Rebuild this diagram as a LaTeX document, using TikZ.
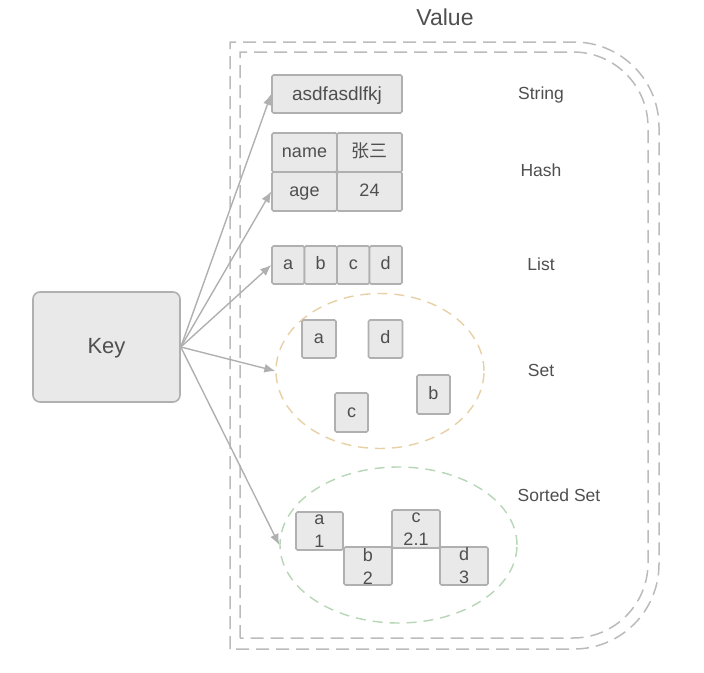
\documentclass[tikz,border=0pt]{standalone}
\usepackage{fontspec}
\setmainfont{Liberation Sans}
\newfontfamily\cjk{Noto Sans CJK SC}
\usepackage{xcolor}
\usepackage{tikz}
\usetikzlibrary{shapes,arrows}
\usetikzlibrary{arrows.meta}
\definecolor{boxfill}{HTML}{E9E9E9}
\definecolor{boxline}{HTML}{B0B0B0}
\definecolor{txt}{HTML}{4F4F4F}
\definecolor{setline}{HTML}{E8D0A6}
\definecolor{zsetline}{HTML}{B6D6B6}
\definecolor{frameline}{HTML}{BBBBBB}
\tikzstyle{line} = [draw=boxline, line width=1.4pt, -{Latex[length=11pt,width=9pt]}]
\tikzstyle{frame} = [draw=frameline, line width=1.5pt, dash pattern=on 13pt off 7pt]

\begin{document}
\begin{tikzpicture}[x=1pt,y=-1pt,
      cell/.style={draw=boxline,
      fill=boxfill,
      line width=1.6pt,
      rounded corners=1.5pt,
      inner sep=0pt,
      text=txt,
      text height=13pt,
      text depth=3.5pt,
      font=\fontsize{18}{23}\selectfont},
      pair/.style={cell, text height=, text depth=, align=center,
      font=\fontsize{18}{23}\selectfont},
      label/.style={text=txt, text height=13pt, text depth=3.5pt,
      font=\fontsize{17.5}{21}\selectfont},
      bag/.style={ellipse, line width=1.4pt, dash pattern=on 10pt off 7pt, inner sep=0pt}]
    \useasboundingbox (0,0) rectangle (704,672);
    %% Value frame
    \node [text=txt, font=\fontsize{23}{26}\selectfont] at (445,17) (value) {Value};
    \path [frame] (230,649) -- (230,42) -- (574,42) arc[start angle=-90,end angle=0,radius=85]
      -- (659,564) arc[start angle=0,end angle=90,radius=85] -- cycle;
    \path [frame] (240,638) -- (240,52) -- (573,52) arc[start angle=-90,end angle=0,radius=75]
      -- (648,563) arc[start angle=0,end angle=90,radius=75] -- cycle;
    %% Key
    \node [cell, rounded corners=7pt, minimum width=147pt, minimum height=110pt,
      text height=16pt, text depth=3.5pt, font=\fontsize{22}{26}\selectfont] at (106.5,347) (key) {Key};
    %% String
    \node [cell, minimum width=130pt, minimum height=38pt, text height=16pt, text depth=3pt,
      font=\fontsize{19}{23}\selectfont] at (337,94) (str) {asdfasdlfkj};
    %% Hash
    \node [cell, minimum width=65pt, minimum height=39pt] at (304.5,152.5) (h_name) {name};
    \node [cell, minimum width=65pt, minimum height=39pt] at (369.5,152.5) (h_zs) {\cjk 张三};
    \node [cell, minimum width=65pt, minimum height=39pt] at (304.5,191.5) (h_age) {age};
    \node [cell, minimum width=65pt, minimum height=39pt] at (369.5,191.5) (h_24) {24};
    %% List
    \node [cell, minimum width=32.5pt, minimum height=38pt] at (288.25,265) (l_a) {a};
    \node [cell, minimum width=32.5pt, minimum height=38pt] at (320.75,265) (l_b) {b};
    \node [cell, minimum width=32.5pt, minimum height=38pt] at (353.25,265) (l_c) {c};
    \node [cell, minimum width=32.5pt, minimum height=38pt] at (385.75,265) (l_d) {d};
    %% Set
    \node [bag, draw=setline, minimum width=208pt, minimum height=155pt] at (380,371) (set) {};
    \node [cell, minimum width=34pt, minimum height=38pt] at (319,339) (s_a) {a};
    \node [cell, minimum width=34pt, minimum height=38pt] at (385.5,339) (s_d) {d};
    \node [cell, minimum width=33pt, minimum height=39pt] at (351.5,412.5) (s_c) {c};
    \node [cell, minimum width=33pt, minimum height=39pt] at (433.5,394.5) (s_b) {b};
    %% Sorted set
    \node [bag, draw=zsetline, minimum width=237pt, minimum height=156pt] at (398.5,545) (zset) {};
    \node [pair, minimum width=47pt, minimum height=38pt] at (319.5,531) (z_a) {a\\1};
    \node [pair, minimum width=48pt, minimum height=38pt] at (368,566) (z_b) {b\\2};
    \node [pair, minimum width=48pt, minimum height=38pt] at (416,529) (z_c) {c\\2.1};
    \node [pair, minimum width=48pt, minimum height=38pt] at (464,566) (z_d) {d\\3};
    %% Type names
    \node [label] at (541,94.5) (t_str) {String};
    \node [label] at (541,171.5) (t_hash) {Hash};
    \node [label] at (541,265.5) (t_list) {List};
    \node [label] at (541,371.5) (t_set) {Set};
    \node [label] at (559,497) (t_zset) {Sorted Set};
    %% Arrows
    \path [line] (key.east) to (str.west);
    \path [line] (key.east) to (h_age.west);
    \path [line] (key.east) to (l_a.west);
    \path [line] (key.east) to (set.west);
    \path [line] (key.east) to (zset.west);
  \end{tikzpicture}
\end{document}
